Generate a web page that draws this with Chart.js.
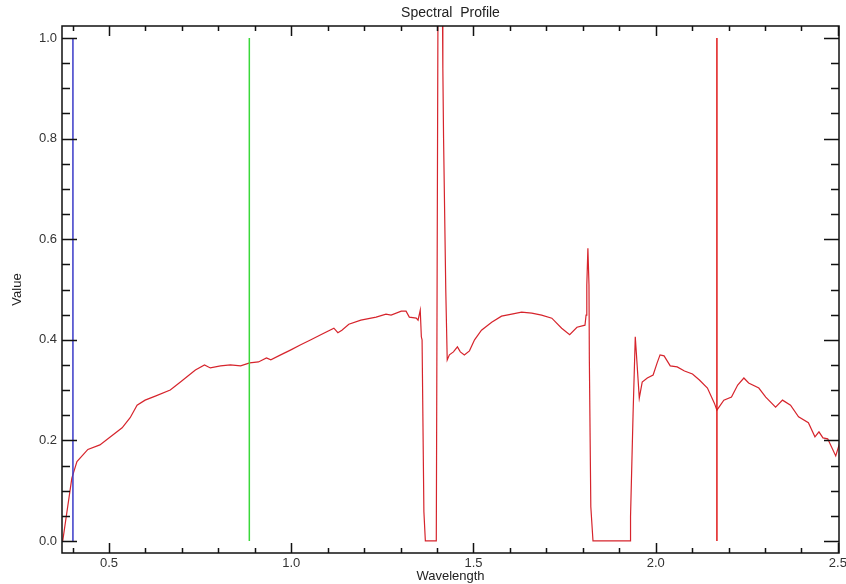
<!DOCTYPE html>
<html>
<head>
<meta charset="utf-8">
<script src="https://cdn.jsdelivr.net/npm/chart.js@4/dist/chart.umd.min.js"></script>
<style>
  html, body { margin: 0; padding: 0; background: #fff; }
  #wrap { width: 846px; height: 584px; }
</style>
</head>
<body>
<div id="wrap"><canvas id="myChart" width="846" height="584"></canvas></div>
<script>
// wavelength / value pairs
const wavelength = [
  0.373, 0.398, 0.412, 0.442, 0.475, 0.497, 0.536, 0.558, 0.577, 0.599,
  0.627, 0.668, 0.696, 0.737, 0.762, 0.778, 0.806, 0.833, 0.861, 0.886,
  0.910, 0.932, 0.944, 0.971, 0.999, 1.026, 1.054, 1.081, 1.117, 1.128,
  1.139, 1.158, 1.191, 1.233, 1.260, 1.274, 1.302, 1.315, 1.324, 1.343,
  1.348, 1.354, 1.357, 1.359, 1.364, 1.368, 1.398, 1.403, 1.414, 1.416,
  1.418, 1.424, 1.428, 1.434, 1.445, 1.456, 1.464, 1.475, 1.489, 1.503,
  1.522, 1.550, 1.577, 1.605, 1.632, 1.660, 1.687, 1.715, 1.742, 1.764,
  1.784, 1.806, 1.809, 1.811, 1.814, 1.817, 1.818, 1.822, 1.828, 1.930,
  1.931, 1.938, 1.944, 1.946, 1.955, 1.963, 1.977, 1.993, 2.004, 2.012,
  2.023, 2.040, 2.059, 2.079, 2.101, 2.120, 2.142, 2.161, 2.168, 2.187,
  2.208, 2.225, 2.242, 2.255, 2.283, 2.302, 2.329, 2.348, 2.370, 2.392,
  2.419, 2.437, 2.448, 2.459, 2.472, 2.494, 2.505
];
const profile = [
  0.000, 0.125, 0.158, 0.182, 0.191, 0.203, 0.225, 0.245, 0.270, 0.280,
  0.288, 0.300, 0.316, 0.340, 0.350, 0.344, 0.348, 0.350, 0.348, 0.354,
  0.356, 0.364, 0.360, 0.370, 0.380, 0.390, 0.400, 0.410, 0.423, 0.414,
  0.419, 0.431, 0.439, 0.445, 0.451, 0.449, 0.457, 0.457, 0.445, 0.443,
  0.439, 0.459, 0.406, 0.400, 0.058, 0.000, 0.000, 1.150, 1.150, 0.940,
  0.800, 0.500, 0.360, 0.370, 0.376, 0.386, 0.376, 0.370, 0.378, 0.400,
  0.419, 0.435, 0.447, 0.451, 0.455, 0.453, 0.449, 0.443, 0.423, 0.410,
  0.425, 0.429, 0.449, 0.509, 0.582, 0.509, 0.360, 0.068, 0.000, 0.000,
  0.048, 0.254, 0.406, 0.384, 0.284, 0.316, 0.324, 0.330, 0.354, 0.370,
  0.368, 0.348, 0.346, 0.338, 0.332, 0.320, 0.304, 0.274, 0.260, 0.280,
  0.286, 0.310, 0.324, 0.314, 0.304, 0.286, 0.266, 0.280, 0.270, 0.247,
  0.235, 0.207, 0.217, 0.205, 0.203, 0.169, 0.195
];

// band markers (blue, green, red)
const markerPos = [0.401, 0.885, 2.168];
const markerColors = ['#3a3ac8', '#3ad83a', '#e01818'];
const markerRange = [0, 1.0];

const xTicks = [0.5, 1.0, 1.5, 2.0, 2.5];
const yTicks = [0.0, 0.2, 0.4, 0.6, 0.8, 1.0];

const xRange = [0.371, 2.503];
const yRange = [-0.024, 1.024];

const ctx = document.getElementById('myChart');

let datasets = markerPos.map((pos, i) => ({
  label: 'marker ' + i,
  data: markerRange.map((v) => ({ x: pos, y: v })),
  showLine: true,
  borderColor: markerColors[i],
  borderWidth: 1.5,
  pointRadius: 0,
  clip: 0,
}));

datasets.push({
  label: 'spectrum',
  data: wavelength.map((w, i) => ({ x: w, y: profile[i] })),
  showLine: true,
  borderColor: '#d6242c',
  borderWidth: 1.2,
  pointRadius: 0,
  tension: 0,
  clip: 0,
});

// frame, inward ticks on all four sides, title and axis names
const idlFrame = {
  id: 'idlFrame',
  afterDraw(chart) {
    const c = chart.ctx;
    const a = chart.chartArea;
    const xs = chart.scales.x;
    const ys = chart.scales.y;
    c.save();
    c.strokeStyle = '#111';
    c.lineWidth = 1.5;
    c.strokeRect(a.left, a.top, a.right - a.left, a.bottom - a.top);

    c.beginPath();
    for (let k = 4; k <= 25; k++) {
      const v = k / 10;
      const px = Math.round(xs.getPixelForValue(v)) + 0.5;
      const len = k % 5 == 0 ? 10 : 5;
      c.moveTo(px, a.bottom);
      c.lineTo(px, a.bottom - len);
      c.moveTo(px, a.top);
      c.lineTo(px, a.top + len);
    }
    for (let k = 0; k <= 20; k++) {
      const v = k / 20;
      const py = Math.round(ys.getPixelForValue(v)) + 0.5;
      const len = k % 4 == 0 ? 15 : 8;
      c.moveTo(a.left, py);
      c.lineTo(a.left + len, py);
      c.moveTo(a.right, py);
      c.lineTo(a.right - len, py);
    }
    c.stroke();

    c.fillStyle = '#222';
    c.font = '14px "Liberation Sans", Arial, sans-serif';
    c.textAlign = 'center';
    c.textBaseline = 'middle';
    const cx = (a.left + a.right) / 2;
    c.fillText('Spectral  Profile', cx, 13);
    c.font = '13px "Liberation Sans", Arial, sans-serif';
    c.fillText('Wavelength', cx, 576);
    c.translate(17, (a.top + a.bottom) / 2);
    c.rotate(-Math.PI / 2);
    c.fillText('Value', 0, 0);
    c.restore();
  },
};

new Chart(ctx, {
  type: 'scatter',
  data: { datasets: datasets },
  options: {
    responsive: false,
    animation: false,
    layout: { padding: { left: 0, right: 7, top: 26, bottom: 0 } },
    scales: {
      x: {
        type: 'linear',
        min: xRange[0],
        max: xRange[1],
        afterBuildTicks: (s) => {
          s.ticks = xTicks.map((v) => ({ value: v }));
        },
        afterFit: (s) => {
          s.height = 31;
          s.paddingLeft = 0;
          s.paddingRight = 0;
        },
        grid: { display: false, drawTicks: false },
        border: { display: false },
        ticks: {
          padding: 3,
          maxRotation: 0,
          autoSkip: false,
          color: '#333',
          font: { family: 'Liberation Sans', size: 13 },
          callback: (v) => Number(v).toFixed(1),
        },
      },
      y: {
        type: 'linear',
        min: yRange[0],
        max: yRange[1],
        afterBuildTicks: (s) => {
          s.ticks = yTicks.map((v) => ({ value: v }));
        },
        afterFit: (s) => {
          s.width = 62;
          s.paddingTop = 0;
          s.paddingBottom = 0;
        },
        grid: { display: false, drawTicks: false },
        border: { display: false },
        ticks: {
          padding: 5,
          autoSkip: false,
          color: '#333',
          font: { family: 'Liberation Sans', size: 13 },
          callback: (v) => Number(v).toFixed(1),
        },
      },
    },
    plugins: {
      legend: { display: false },
      tooltip: { enabled: false },
    },
  },
  plugins: [idlFrame],
});
</script>
</body>
</html>
